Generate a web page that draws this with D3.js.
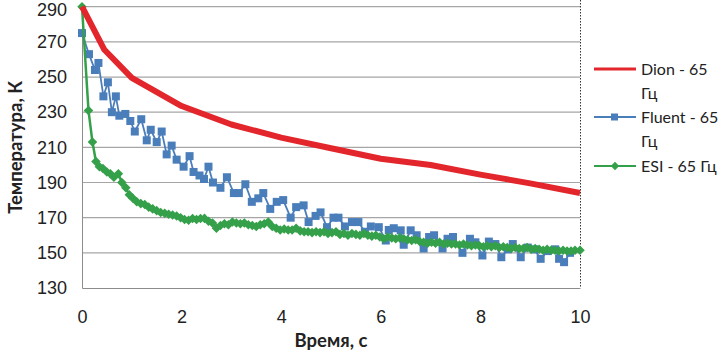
<!DOCTYPE html>
<html lang="ru">
<head>
    <meta charset="UTF-8">
    <title>Температура</title>
    <script src="https://d3js.org/d3.v7.min.js"></script>
    <style>
        body { margin: 0; background: #fff; }
        svg { display: block; font-family: Lato, "Open Sans", sans-serif; }
        .tick text { fill: #222; }
    </style>
</head>
<body>
<div id="chart"></div>
<script>
    // Данные
    const xTicks = [0, 2, 4, 6, 8, 10];
    const yTicks = [130, 150, 170, 190, 210, 230, 250, 270, 290];

    const dionTime = [0, 0.45, 1, 2, 3, 4, 5, 6, 7, 8, 9, 10];
    const dionTemp = [290, 265.5, 249.5, 233.5, 223, 215.5, 209.5, 203.5, 200, 194.5, 189.5, 184];

    const fluentTime = [0, 0.14, 0.26, 0.33, 0.43, 0.52, 0.6, 0.68, 0.75, 0.87, 0.97, 1.06, 1.19, 1.3, 1.38, 1.5,
        1.6, 1.7, 1.8, 1.9, 2.04, 2.16, 2.24, 2.36, 2.45, 2.54, 2.63, 2.78, 2.91, 3.05, 3.15, 3.28, 3.41, 3.54,
        3.64, 3.78, 3.91, 4.04, 4.19, 4.3, 4.45, 4.55, 4.69, 4.79, 4.92, 5.05, 5.15, 5.28, 5.42, 5.55, 5.68, 5.8,
        5.96, 6.1, 6.16, 6.26, 6.4, 6.46, 6.6, 6.72, 6.86, 6.97, 7.07, 7.24, 7.34, 7.45, 7.64, 7.79, 7.9, 8.04,
        8.17, 8.3, 8.42, 8.55, 8.65, 8.81, 8.95, 9.08, 9.21, 9.35, 9.5, 9.58, 9.68, 9.8];
    const fluentTemp = [275, 263, 254, 258, 239, 247, 230, 239, 228, 229, 225, 219, 226, 214, 220, 213,
        219, 206, 211, 203, 199, 205, 196, 194, 192, 199, 190, 187, 193, 184, 184, 189, 179, 181,
        184, 175, 179, 180, 170, 176, 177, 167.5, 171, 173, 164.6, 170, 170, 165, 167.5, 167.5, 162, 165,
        164.6, 157, 163, 164, 162.8, 154.6, 162.8, 160, 152.5, 159, 160, 152.5, 158, 159, 150, 158, 156, 148.5,
        156.4, 155, 147.5, 152, 155, 147.5, 153, 152, 146.6, 151, 152, 146.6, 144.7, 150];

    const esiTime = [0, 0.13, 0.21, 0.28, 0.35, 0.42, 0.5, 0.57, 0.64, 0.73, 0.8, 0.88, 0.95, 1.02, 1.1, 1.18,
        1.26, 1.34, 1.42, 1.5, 1.58, 1.66, 1.74, 1.82, 1.9, 1.98, 2.06, 2.14, 2.22, 2.3, 2.38, 2.46, 2.54, 2.62,
        2.7, 2.78, 2.86, 2.94, 3.02, 3.1, 3.18, 3.26, 3.34, 3.42, 3.5, 3.58, 3.66, 3.74, 3.82, 3.9, 3.98, 4.06,
        4.14, 4.22, 4.3, 4.38, 4.46, 4.54, 4.62, 4.7, 4.78, 4.86, 4.94, 5.02, 5.1, 5.18, 5.26, 5.34, 5.42, 5.5,
        5.58, 5.66, 5.74, 5.82, 5.9, 5.98, 6.06, 6.14, 6.22, 6.3, 6.38, 6.46, 6.54, 6.62, 6.7, 6.78, 6.86, 6.94,
        7.02, 7.1, 7.18, 7.26, 7.34, 7.42, 7.5, 7.58, 7.66, 7.74, 7.82, 7.9, 7.98, 8.06, 8.14, 8.22, 8.3, 8.38,
        8.46, 8.54, 8.62, 8.7, 8.78, 8.86, 8.94, 9.02, 9.1, 9.18, 9.26, 9.34, 9.42, 9.5, 9.58, 9.66, 9.74, 9.82,
        9.9, 10];
    const esiTemp = [290, 231, 213, 202, 199, 198, 196, 195, 193, 195, 190, 187, 183, 181, 179, 178,
        177.5, 176, 175, 174, 173, 172.5, 172, 171.5, 171, 170, 169, 168.5, 169.5, 169, 169.5, 169.6, 168, 167,
        164, 165.5, 166.5, 166, 167.5, 167, 166.5, 167, 166, 165.5, 165, 166, 166.5, 167.5, 165, 164, 163, 163.5,
        163, 163, 164, 162.5, 162, 162, 161.5, 162, 161.5, 162, 161, 161.5, 162, 160.5, 161, 160, 161, 160.5,
        160, 161, 160, 159.5, 160, 159, 158, 159, 158.5, 158, 158.5, 158, 157.5, 157, 157.5, 156.5, 156, 155.5,
        156, 155.5, 156, 155, 155.5, 155, 155, 154.5, 155, 154.5, 154, 154.5, 154, 153.5, 154, 153.5, 154, 153,
        153.5, 153, 152.5, 153, 152.5, 152.5, 153, 152, 152.5, 152, 151.5, 152, 151.5, 151.5, 151, 151.5, 151, 151,
        151.5, 151.5];

    const seriesColors = ["#e3262b", "#4a7ebb", "#35a04a"];

    const W = 723, H = 354;
    const plotLeft = 82, plotRight = 580, plotTop = 6.7, plotBottom = 288;

    const svg = d3.select("#chart").append("svg")
        .attr("width", W)
        .attr("height", H);

    const x = d3.scaleLinear().domain([0, 10]).range([plotLeft, plotRight]);
    const y = d3.scaleLinear().domain([130, 290]).range([plotBottom, plotTop]);

    // Сетка
    svg.append("g")
        .selectAll("line")
        .data(yTicks.filter(d => d > 130))
        .join("line")
        .attr("x1", plotLeft).attr("x2", plotRight)
        .attr("y1", d => y(d)).attr("y2", d => y(d))
        .attr("stroke", "#a6a6a6")
        .attr("stroke-width", 1.2);

    // Оси
    const yAxis = svg.append("g")
        .attr("transform", `translate(${plotLeft},0)`)
        .call(d3.axisLeft(y).tickValues(yTicks).tickSize(0).tickPadding(15));
    yAxis.select(".domain").attr("stroke", "#8c8c8c");
    yAxis.selectAll("text").style("font-size", "18px");
    // верхняя подпись чуть ниже, чтобы не обрезалась
    yAxis.selectAll(".tick").filter(d => d === 290).select("text").attr("dy", "0.5em");

    const xAxis = svg.append("g")
        .attr("transform", `translate(0,${plotBottom})`)
        .call(d3.axisBottom(x).tickValues(xTicks).tickSize(0).tickPadding(22).tickFormat(d3.format("d")));
    xAxis.select(".domain").attr("stroke", "#8c8c8c");
    xAxis.selectAll("text").style("font-size", "18px");

    // Пунктирная граница справа
    svg.append("line")
        .attr("x1", plotRight + 0.5).attr("x2", plotRight + 0.5)
        .attr("y1", 0).attr("y2", plotBottom)
        .attr("stroke", "#333")
        .attr("stroke-width", 1)
        .attr("stroke-dasharray", "1.5,1.5");

    // Подписи осей
    svg.append("text")
        .attr("x", (plotLeft + plotRight) / 2)
        .attr("y", 347)
        .attr("text-anchor", "middle")
        .style("font-size", "18.5px")
        .style("font-weight", "bold")
        .attr("fill", "#222")
        .text("Время, с");

    svg.append("text")
        .attr("transform", `translate(22,${(plotTop + plotBottom) / 2}) rotate(-90)`)
        .attr("text-anchor", "middle")
        .style("font-size", "18.5px")
        .style("font-weight", "bold")
        .attr("fill", "#222")
        .text("Температура, К");

    const line = d3.line().x(d => x(d[0])).y(d => y(d[1]));

    const dion = dionTime.map((t, i) => [t, dionTemp[i]]);
    const fluent = fluentTime.map((t, i) => [t, fluentTemp[i]]);
    const esi = esiTime.map((t, i) => [t, esiTemp[i]]);

    // Fluent
    svg.append("path").datum(fluent)
        .attr("d", line).attr("fill", "none")
        .attr("stroke", seriesColors[1]).attr("stroke-width", 1.8);
    svg.append("g").selectAll("rect").data(fluent).join("rect")
        .attr("x", d => x(d[0]) - 4).attr("y", d => y(d[1]) - 4)
        .attr("width", 8).attr("height", 8)
        .attr("fill", seriesColors[1]);

    // ESI
    const diamond = d3.symbol().type(d3.symbolDiamond2).size(58);
    svg.append("path").datum(esi)
        .attr("d", line).attr("fill", "none")
        .attr("stroke", seriesColors[2]).attr("stroke-width", 2.5);
    svg.append("g").selectAll("path").data(esi).join("path")
        .attr("transform", d => `translate(${x(d[0])},${y(d[1])})`)
        .attr("d", diamond)
        .attr("fill", seriesColors[2]);

    // Dion
    svg.append("path").datum(dion)
        .attr("d", line).attr("fill", "none")
        .attr("stroke", seriesColors[0]).attr("stroke-width", 6)
        .attr("stroke-linejoin", "round");

    // Легенда
    const legendRows = [
        { lines: ["Dion - 65", "Гц"], y: 69 },
        { lines: ["Fluent - 65", "Гц"], y: 117 },
        { lines: ["ESI - 65 Гц"], y: 166 }
    ];
    const lg = svg.append("g");
    legendRows.forEach((r, i) => {
        lg.append("line")
            .attr("x1", 594).attr("x2", 636)
            .attr("y1", r.y).attr("y2", r.y)
            .attr("stroke", seriesColors[i])
            .attr("stroke-width", i === 0 ? 3 : 2);
        if (i === 1) {
            lg.append("rect").attr("x", 611).attr("y", r.y - 3.5)
                .attr("width", 7).attr("height", 7).attr("fill", seriesColors[i]);
        }
        if (i === 2) {
            lg.append("path").attr("transform", `translate(615,${r.y})`)
                .attr("d", d3.symbol().type(d3.symbolDiamond2).size(45)).attr("fill", seriesColors[i]);
        }
        r.lines.forEach((s, k) => {
            lg.append("text")
                .attr("x", 641).attr("y", r.y + 6 + k * 24)
                .style("font-size", "16px")
                .attr("fill", "#222")
                .text(s);
        });
    });
</script>
</body>
</html>
